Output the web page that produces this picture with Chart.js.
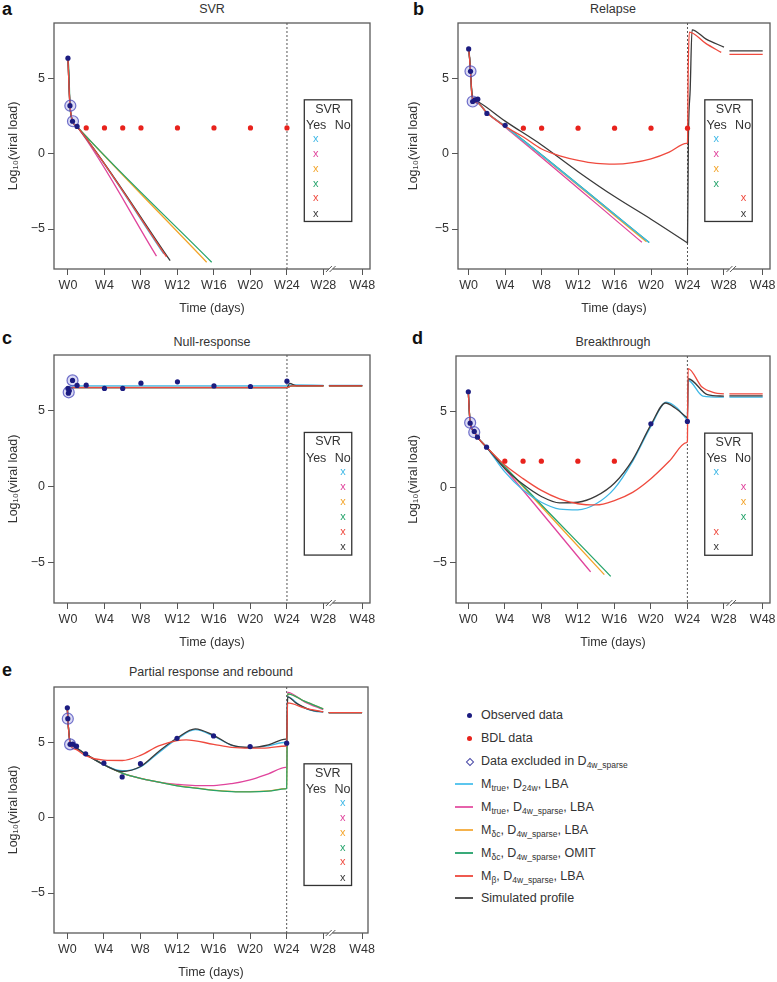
<!DOCTYPE html>
<html>
<head>
<meta charset="utf-8">
<script src="https://cdn.jsdelivr.net/npm/chart.js@4.4.1/dist/chart.umd.min.js"></script>
<style>
  html, body { margin: 0; padding: 0; background: #fff; overflow: hidden; }
  body { width: 777px; height: 982px; position: relative; font-family: 'Liberation Sans', Arial, Helvetica, sans-serif; color: #333; }
  canvas { position: absolute; }
  .letter { position: absolute; font-weight: bold; font-size: 18px; line-height: 18px; color: #111; }
  .ptitle { position: absolute; font-size: 12.5px; line-height: 15px; transform: translateX(-50%); white-space: nowrap; }
  .leg { position: absolute; left: 455px; height: 16px; line-height: 16px; font-size: 12.5px; white-space: nowrap; }
  .leg .txt { position: absolute; left: 26px; top: 0; }
  .leg sub { font-size: 8.5px; vertical-align: -3px; line-height: 0; }
  .leg .dot { position: absolute; left: 11.5px; top: 5.5px; width: 5px; height: 5px; border-radius: 50%; }
  .leg .dia { position: absolute; left: 12px; top: 5.5px; width: 4px; height: 4px; border: 1px solid #4a4aa8; transform: rotate(45deg); }
  .leg .ln { position: absolute; left: 0; top: 7px; width: 18px; height: 2px; }
</style>
</head>
<body>
<div class="letter" style="left:2px;top:0px">a</div>
<div class="letter" style="left:413px;top:0px">b</div>
<div class="letter" style="left:2px;top:329px">c</div>
<div class="letter" style="left:412px;top:329px">d</div>
<div class="letter" style="left:2px;top:661px">e</div>
<div class="ptitle" style="left:212px;top:2px">SVR</div>
<div class="ptitle" style="left:613px;top:2px">Relapse</div>
<div class="ptitle" style="left:212px;top:335px">Null-response</div>
<div class="ptitle" style="left:613px;top:335px">Breakthrough</div>
<div class="ptitle" style="left:211px;top:665px">Partial response and rebound</div>

<canvas id="pa" width="390" height="320" style="left:0;top:0"></canvas>
<canvas id="pb" width="377" height="320" style="left:400px;top:0"></canvas>
<canvas id="pc" width="390" height="334" style="left:0;top:320px"></canvas>
<canvas id="pd" width="377" height="334" style="left:400px;top:320px"></canvas>
<canvas id="pe" width="390" height="344" style="left:0;top:640px"></canvas>
<div id="legend"></div>

<script>
// axis ticks (x in weeks, W48 drawn after the axis break)
const tickWeeks = [0, 4, 8, 12, 16, 20, 24, 28, 32.25];
const tickLabels = ['W0', 'W4', 'W8', 'W12', 'W16', 'W20', 'W24', 'W28', 'W48'];
const yTicks = [-5, 0, 5];
const curveKeys = ['cyan', 'magenta', 'orange', 'green', 'red', 'black'];
const legendLabels = [
  'Observed data',
  'BDL data',
  'Data excluded in D<sub>4w_sparse</sub>',
  'M<sub>true</sub>, D<sub>24w</sub>, LBA',
  'M<sub>true</sub>, D<sub>4w_sparse</sub>, LBA',
  'M<sub>δc</sub>, D<sub>4w_sparse</sub>, LBA',
  'M<sub>δc</sub>, D<sub>4w_sparse</sub>, OMIT',
  'M<sub>β</sub>, D<sub>4w_sparse</sub>, LBA',
  'Simulated profile'
];

// ---- panel a: SVR
const aObsWeeks = [0, 0.22, 0.5, 1];
const aObsLog = [6.32, 3.17, 2.14, 1.8];
const aExclWeeks = [0.26, 0.55];
const aExclLog = [3.17, 2.14];
const aBdlWeeks = [2, 4, 6, 8, 12, 16, 20, 24];
const aBdlLog = [1.7, 1.7, 1.7, 1.7, 1.7, 1.7, 1.7, 1.7];
const aCyan = [[0, 6.32], [0.1, 4.7], [0.22, 3.2], [0.5, 2.15], [1, 1.78], [10.5, -6.65]];
const aMagenta = [[0, 6.32], [0.1, 4.7], [0.22, 3.2], [0.5, 2.15], [1, 1.78], [9.7, -6.8]];
const aOrange = [[0, 6.32], [0.1, 4.7], [0.22, 3.2], [0.5, 2.15], [1, 1.78], [15.2, -7.2]];
const aGreen = [[0, 6.32], [0.1, 5.5], [0.22, 3.2], [0.5, 2.15], [1, 1.78], [15.75, -7.2]];
const aRed = [[0, 6.32], [0.1, 4.7], [0.22, 3.2], [0.5, 2.15], [1, 1.78], [10.8, -6.85]];
const aBlack = [[0, 6.32], [0.1, 4.8], [0.22, 3.2], [0.5, 2.15], [1, 1.78], [11.2, -7.1]];
const aSvr = ['Yes', 'Yes', 'Yes', 'Yes', 'Yes', 'Yes'];

// ---- panel b: Relapse
const bObsWeeks = [0, 0.2, 0.44, 0.7, 1, 2, 4];
const bObsLog = [6.93, 5.45, 3.45, 3.55, 3.6, 2.66, 1.87];
const bExclWeeks = [0.2, 0.44];
const bExclLog = [5.45, 3.45];
const bBdlWeeks = [6, 8, 12, 16, 20, 24];
const bBdlLog = [1.68, 1.68, 1.68, 1.68, 1.68, 1.68];
const bCyan = [[0, 6.93], [0.1, 6.3], [0.2, 5.4], [0.35, 3.9], [0.5, 3.5], [1, 3.35], [2, 2.7], [4, 1.8], [19.8, -5.9]];
const bMagenta = [[0, 6.93], [0.1, 6.3], [0.2, 5.4], [0.35, 3.9], [0.5, 3.5], [1, 3.35], [2, 2.7], [4, 1.75], [19, -5.88]];
const bOrange = [[0, 6.93], [0.1, 6.3], [0.2, 5.4], [0.35, 3.9], [0.5, 3.5], [1, 3.35], [2, 2.7], [4, 1.8], [19.5, -5.85]];
const bGreen = [[0, 6.93], [0.1, 6.3], [0.2, 5.4], [0.35, 3.9], [0.5, 3.5], [1, 3.35], [2, 2.7], [4, 1.82], [19.8, -5.9]];
const bRed = [[0, 6.93], [0.1, 6.3], [0.2, 5.4], [0.35, 3.9], [0.5, 3.5], [1, 3.35], [2, 2.7], [4, 1.8], [6, 1.1], [8, 0.3], [10, -0.15], [12, -0.45], [14, -0.65], [16, -0.7], [18, -0.6], [20, -0.35], [22, 0.1], [23.9, 0.68], [24, 0.72], [24.08, 5.5], [24.2, 8.05], [26, 7.3], [27.7, 6.7], [28.2, null], [28.6, 6.57], [32.25, 6.57]];
const bBlack = [[0, 6.93], [0.1, 6.4], [0.2, 5.4], [0.4, 3.8], [0.6, 3.55], [1, 3.45], [4, 2.15], [8, 0.57], [12, -1.2], [16, -2.85], [20, -4.35], [23.9, -5.88], [24, -5.92], [24.1, 1.0], [24.3, 4.3], [24.5, 8.2], [26, 7.6], [28, 7.05], [28.3, null], [28.6, 6.8], [32.25, 6.8]];
const bSvr = ['Yes', 'Yes', 'Yes', 'Yes', 'No', 'No'];

// ---- panel c: Null-response
const cObsWeeks = [0, 0.05, 0.15, 0.5, 1, 2, 4, 6, 8, 12, 16, 20, 24];
const cObsLog = [6.45, 6.14, 6.3, 6.98, 6.65, 6.67, 6.45, 6.45, 6.8, 6.89, 6.62, 6.58, 6.93];
const cExclWeeks = [0.08, 0.5];
const cExclLog = [6.2, 6.98];
const cBdlWeeks = [];
const cBdlLog = [];
const cCyan = [[0, 6.45], [0.4, 6.62], [24, 6.62], [24.5, 6.68], [28, 6.66], [28.3, null], [28.6, 6.66], [32.25, 6.66]];
const cMagenta = [[0, 6.45], [0.5, 6.52], [24, 6.52], [24.5, 6.63], [28, 6.63], [28.3, null], [28.6, 6.63], [32.25, 6.63]];
const cOrange = [[0, 6.45], [0.5, 6.52], [24, 6.52], [24.5, 6.63], [28, 6.63], [28.3, null], [28.6, 6.63], [32.25, 6.63]];
const cGreen = [[0, 6.45], [0.5, 6.51], [24, 6.51], [24.5, 6.63], [28, 6.63], [28.3, null], [28.6, 6.63], [32.25, 6.63]];
const cRed = [[0, 6.45], [0.5, 6.5], [24, 6.5], [24.5, 6.62], [28, 6.62], [28.3, null], [28.6, 6.62], [32.25, 6.62]];
const cBlack = [[0, 6.45], [0.5, 6.5], [24, 6.5], [24.3, 6.78], [25, 6.64], [28, 6.64], [28.3, null], [28.6, 6.64], [32.25, 6.64]];
const cSvr = ['No', 'No', 'No', 'No', 'No', 'No'];

// ---- panel d: Breakthrough
const dObsWeeks = [0, 0.2, 0.65, 1, 2, 20, 24];
const dObsLog = [6.29, 4.22, 3.67, 3.29, 2.63, 4.18, 4.33];
const dExclWeeks = [0.2, 0.65];
const dExclLog = [4.25, 3.62];
const dBdlWeeks = [4, 6, 8, 12, 16];
const dBdlLog = [1.71, 1.71, 1.71, 1.71, 1.71];
const dCyan = [[0, 6.29], [0.08, 5.3], [0.2, 4.25], [0.6, 3.7], [1, 3.3], [2, 2.63], [4, 1.0], [6, -0.2], [8, -1.0], [10, -1.45], [12, -1.5], [14, -1.1], [16, -0.1], [18, 1.7], [20, 4.0], [21.7, 5.6], [22.9, 5.2], [23.9, 4.5], [24, 4.45], [24.08, 7.05], [25.7, 6.0], [28, 5.93], [28.3, null], [28.6, 5.93], [32.25, 5.93]];
const dMagenta = [[0, 6.29], [0.08, 5.3], [0.2, 4.25], [0.6, 3.7], [1, 3.3], [2, 2.63], [13.4, -5.6]];
const dOrange = [[0, 6.29], [0.08, 5.3], [0.2, 4.25], [0.6, 3.7], [1, 3.3], [2, 2.63], [14.9, -5.78]];
const dGreen = [[0, 6.29], [0.08, 5.3], [0.2, 4.25], [0.6, 3.7], [1, 3.3], [2, 2.63], [15.6, -5.89]];
const dRed = [[0, 6.29], [0.08, 5.3], [0.2, 4.25], [0.6, 3.7], [1, 3.3], [2, 2.63], [4, 1.45], [6, 0.56], [8, -0.22], [10, -0.78], [12, -1.1], [14, -1.18], [16, -0.89], [18, -0.35], [20, 0.55], [22, 1.7], [23.9, 2.93], [24, 3.0], [24.08, 7.82], [25.6, 6.6], [27, 6.22], [28, 6.15], [28.3, null], [28.6, 6.15], [32.25, 6.15]];
const dBlack = [[0, 6.29], [0.08, 5.3], [0.2, 4.25], [0.6, 3.7], [1, 3.3], [2, 2.63], [4, 1.22], [6, 0.18], [8, -0.62], [10, -1.04], [12, -1.0], [14, -0.6], [16, 0.25], [18, 1.8], [20, 4.1], [21.6, 5.55], [22.7, 5.2], [23.9, 4.6], [24, 4.55], [24.08, 7.15], [26.2, 6.1], [28, 6.0], [28.3, null], [28.6, 6.02], [32.25, 6.02]];
const dSvr = ['Yes', 'No', 'No', 'No', 'Yes', 'Yes'];

// ---- panel e: Partial response and rebound
const eObsWeeks = [0, 0.05, 0.3, 0.6, 1, 2, 4, 6, 8, 12, 16, 20, 24];
const eObsLog = [7.27, 6.55, 4.85, 4.87, 4.73, 4.22, 3.6, 2.69, 3.57, 5.25, 5.41, 4.7, 4.93];
const eExclWeeks = [0.05, 0.3];
const eExclLog = [6.55, 4.85];
const eBdlWeeks = [];
const eBdlLog = [];
const eCyan = [[0, 7.27], [0.05, 6.6], [0.3, 5.0], [0.6, 4.75], [1, 4.6], [2, 4.2], [4, 3.5], [6, 3.1], [8, 3.35], [10, 4.3], [12, 5.2], [14, 5.82], [16, 5.4], [18, 4.78], [20, 4.62], [22, 4.75], [23.9, 4.99], [24, 5.0], [24.1, 8.0], [25.5, 7.4], [27, 7.05], [28, 7.0], [28.3, null], [28.6, 6.95], [32.25, 6.95]];
const eMagenta = [[0, 7.27], [0.05, 6.6], [0.3, 5.0], [0.6, 4.75], [1, 4.6], [2, 4.2], [4, 3.5], [6, 2.95], [8, 2.6], [10, 2.35], [12, 2.2], [14, 2.12], [16, 2.12], [18, 2.25], [20, 2.5], [22, 2.9], [23.9, 3.32], [24, 3.35], [24.1, 8.3], [26, 7.65], [28, 7.15], [28.3, null], [28.6, 6.95], [32.25, 6.95]];
const eOrange = [[0, 7.27], [0.05, 6.6], [0.3, 5.0], [0.6, 4.75], [1, 4.6], [2, 4.2], [4, 3.5], [6, 2.95], [8, 2.6], [10, 2.35], [12, 2.12], [14, 1.97], [16, 1.82], [18, 1.74], [20, 1.72], [22, 1.77], [23.9, 1.92], [24, 1.94], [24.1, 8.2], [26, 7.7], [28, 7.2], [28.3, null], [28.6, 6.95], [32.25, 6.95]];
const eGreen = [[0, 7.27], [0.05, 6.6], [0.3, 5.0], [0.6, 4.75], [1, 4.6], [2, 4.2], [4, 3.5], [6, 2.95], [8, 2.6], [10, 2.35], [12, 2.1], [14, 1.95], [16, 1.8], [18, 1.72], [20, 1.7], [22, 1.75], [23.9, 1.9], [24, 1.92], [24.1, 8.2], [26, 7.7], [28, 7.2], [28.3, null], [28.6, 6.95], [32.25, 6.95]];
const eRed = [[0, 7.27], [0.05, 6.6], [0.3, 4.9], [0.6, 4.6], [1, 4.5], [2, 4.1], [4, 3.8], [6, 3.78], [8, 4.12], [10, 4.75], [12, 5.1], [13, 5.15], [16, 4.85], [18, 4.65], [20, 4.6], [22, 4.62], [23.9, 4.74], [24, 4.75], [24.1, 7.6], [26, 7.25], [28, 7.0], [28.3, null], [28.6, 6.95], [32.25, 6.95]];
const eBlack = [[0, 7.27], [0.05, 6.6], [0.3, 5.0], [0.6, 4.75], [1, 4.6], [2, 4.2], [4, 3.5], [6, 3.05], [8, 3.38], [10, 4.38], [12, 5.27], [14, 5.88], [16, 5.45], [18, 4.8], [20, 4.65], [22, 4.82], [23.9, 5.2], [24, 5.22], [24.1, 8.0], [25, 7.6], [26.5, 7.15], [28, 7.0], [28.3, null], [28.6, 6.95], [32.25, 6.95]];
const eSvr = ['No', 'No', 'No', 'No', 'No', 'No'];

// ---- styles
const colors = {
  cyan: '#3fb8e6', magenta: '#e0449c', orange: '#f3a52c', green: '#26a46c', red: '#ef4a3e', black: '#3a3a3a',
  obs: '#1c1c80', bdl: '#e8221c', excl: 'rgba(70,70,185,0.75)'
};
const legendColors = ['#1c1c80', '#e8221c', null, '#5cc6ee', '#e662ab', '#f5b24c', '#39aa79', '#ef5a50', '#555'];
const FONT = "'Liberation Sans', Arial, Helvetica, sans-serif";
Chart.defaults.font.family = FONT;
Chart.defaults.font.size = 12.5;
Chart.defaults.color = '#333';

const svrDecor = {
  id: 'svrDecor',
  beforeDatasetsDraw(chart) {
    const {ctx, chartArea: ca, scales: {x}} = chart;
    const px = x.getPixelForValue(24);
    ctx.save();
    ctx.strokeStyle = '#555';
    ctx.lineWidth = 1;
    ctx.setLineDash([2, 2]);
    ctx.beginPath();
    ctx.moveTo(px, ca.top);
    ctx.lineTo(px, ca.bottom);
    ctx.stroke();
    ctx.restore();
  },
  afterDatasetsDraw(chart, args, opts) {
    const {ctx, scales: {x, y}} = chart;
    const L = x.getPixelForValue(25.9), R = x.getPixelForValue(31.1);
    const T = y.getPixelForValue(3.56), B = y.getPixelForValue(-4.5);
    ctx.save();
    ctx.fillStyle = '#fff';
    ctx.fillRect(L, T, R - L, B - T);
    ctx.strokeStyle = '#333';
    ctx.lineWidth = 1.3;
    ctx.strokeRect(L, T, R - L, B - T);
    ctx.font = '12.5px ' + FONT;
    ctx.fillStyle = '#333';
    ctx.textAlign = 'center';
    ctx.textBaseline = 'middle';
    ctx.fillText('SVR', (L + R) / 2, y.getPixelForValue(2.93));
    ctx.fillText('Yes', x.getPixelForValue(27.2), y.getPixelForValue(1.87));
    ctx.fillText('No', x.getPixelForValue(30.1), y.getPixelForValue(1.87));
    const rowY = [0.92, -0.07, -1.06, -2.05, -3.04, -4.05];
    ctx.font = '11px ' + FONT;
    opts.svr.forEach((v, i) => {
      ctx.fillStyle = colors[curveKeys[i]];
      const cx = x.getPixelForValue(v === 'Yes' ? 27.15 : 30.15);
      ctx.fillText('x', cx, y.getPixelForValue(rowY[i]) - 1);
    });
    ctx.restore();
  },
  afterDraw(chart) {
    const {ctx, chartArea: ca, scales: {x}} = chart;
    ctx.save();
    ctx.strokeStyle = '#5a5a5a';
    ctx.lineWidth = 1.3;
    ctx.strokeRect(ca.left, ca.top, ca.right - ca.left, ca.bottom - ca.top);
    // axis break marks
    const b1 = x.getPixelForValue(28.6), b2 = x.getPixelForValue(29.0);
    ctx.fillStyle = '#fff';
    ctx.fillRect(b1, ca.bottom - 2, b2 - b1, 4);
    ctx.lineWidth = 1;
    ctx.beginPath();
    [b1, b2].forEach(b => { ctx.moveTo(b - 3, ca.bottom + 3); ctx.lineTo(b + 3, ca.bottom - 3); });
    ctx.stroke();
    ctx.restore();
  }
};

const toPts = (w, v) => w.map((wk, i) => ({x: wk, y: v[i]}));
const toCurve = arr => arr.map(p => ({x: p[0], y: p[1]}));

function makePanel(id, geo, s) {
  const datasets = [
    {data: toPts(s.obsW, s.obsV), pointRadius: 2.6, pointBackgroundColor: colors.obs, pointBorderWidth: 0},
    {data: toPts(s.exclW, s.exclV), pointRadius: 5.5, pointBackgroundColor: 'rgba(110,110,215,0.25)', pointBorderColor: colors.excl, pointBorderWidth: 1.2},
    {data: toPts(s.bdlW, s.bdlV), pointRadius: 2.6, pointBackgroundColor: colors.bdl, pointBorderWidth: 0}
  ];
  ['red', 'black', 'cyan', 'green', 'orange', 'magenta'].forEach(k => {
    datasets.push({
      data: toCurve(s.curves[k]), showLine: true, pointRadius: 0, borderColor: colors[k],
      borderWidth: 1.3, cubicInterpolationMode: 'monotone', spanGaps: false
    });
  });
  return new Chart(document.getElementById(id), {
    type: 'scatter',
    data: {datasets},
    options: {
      responsive: false,
      animation: false,
      events: [],
      layout: {padding: {left: 0, top: geo.top, right: geo.right, bottom: 0}},
      plugins: {legend: {display: false}, tooltip: {enabled: false}, svrDecor: {svr: s.svr}},
      scales: {
        x: {
          type: 'linear', min: geo.xmin, max: geo.xmax,
          afterBuildTicks: sc => { sc.ticks = tickWeeks.map(v => ({value: v})); },
          afterFit: sc => { sc.height = 51; sc.paddingLeft = 0; sc.paddingRight = 0; },
          ticks: {callback: v => tickLabels[tickWeeks.indexOf(v)], padding: 3, maxRotation: 0, autoSkip: false},
          grid: {drawOnChartArea: false, drawTicks: true, tickLength: 6, color: '#555'},
          border: {display: false},
          title: {display: true, text: 'Time (days)', padding: {top: 0, bottom: 4}}
        },
        y: {
          type: 'linear', min: -7.65, max: 8.65,
          afterBuildTicks: sc => { sc.ticks = yTicks.map(v => ({value: v})); },
          afterFit: sc => { sc.width = geo.yw; sc.paddingTop = 0; sc.paddingBottom = 0; },
          ticks: {callback: v => (v < 0 ? '\u2212' + (-v) : String(v)), padding: 3},
          grid: {drawOnChartArea: false, drawTicks: true, tickLength: 6, color: '#555'},
          border: {display: false},
          title: {display: true, text: 'Log\u2081\u2080(viral load)', padding: {top: 6, bottom: 0}}
        }
      }
    },
    plugins: [svrDecor]
  });
}

makePanel('pa', {top: 23, right: 20, yw: 54, xmin: -1.53, xmax: 33.1}, {
  obsW: aObsWeeks, obsV: aObsLog, exclW: aExclWeeks, exclV: aExclLog, bdlW: aBdlWeeks, bdlV: aBdlLog,
  curves: {cyan: aCyan, magenta: aMagenta, orange: aOrange, green: aGreen, red: aRed, black: aBlack}, svr: aSvr
});
makePanel('pb', {top: 23, right: 7, yw: 58, xmin: -1.17, xmax: 33.05}, {
  obsW: bObsWeeks, obsV: bObsLog, exclW: bExclWeeks, exclV: bExclLog, bdlW: bBdlWeeks, bdlV: bBdlLog,
  curves: {cyan: bCyan, magenta: bMagenta, orange: bOrange, green: bGreen, red: bRed, black: bBlack}, svr: bSvr
});
makePanel('pc', {top: 35, right: 20, yw: 54, xmin: -1.53, xmax: 33.1}, {
  obsW: cObsWeeks, obsV: cObsLog, exclW: cExclWeeks, exclV: cExclLog, bdlW: cBdlWeeks, bdlV: cBdlLog,
  curves: {cyan: cCyan, magenta: cMagenta, orange: cOrange, green: cGreen, red: cRed, black: cBlack}, svr: cSvr
});
makePanel('pd', {top: 36, right: 7, yw: 56, xmin: -1.35, xmax: 33.05}, {
  obsW: dObsWeeks, obsV: dObsLog, exclW: dExclWeeks, exclV: dExclLog, bdlW: dBdlWeeks, bdlV: dBdlLog,
  curves: {cyan: dCyan, magenta: dMagenta, orange: dOrange, green: dGreen, red: dRed, black: dBlack}, svr: dSvr
});
makePanel('pe', {top: 47, right: 22, yw: 54, xmin: -1.46, xmax: 32.9}, {
  obsW: eObsWeeks, obsV: eObsLog, exclW: eExclWeeks, exclV: eExclLog, bdlW: eBdlWeeks, bdlV: eBdlLog,
  curves: {cyan: eCyan, magenta: eMagenta, orange: eOrange, green: eGreen, red: eRed, black: eBlack}, svr: eSvr
});

// legend for all panels
const legendTops = [707, 730, 753, 776, 799, 822, 845, 868, 890];
const legend = document.getElementById('legend');
legendLabels.forEach((lab, i) => {
  const row = document.createElement('div');
  row.className = 'leg';
  row.style.top = legendTops[i] + 'px';
  let mark;
  if (i < 2) mark = '<span class="dot" style="background:' + legendColors[i] + '"></span>';
  else if (i === 2) mark = '<span class="dia"></span>';
  else mark = '<span class="ln" style="background:' + legendColors[i] + '"></span>';
  row.innerHTML = mark + '<span class="txt">' + lab + '</span>';
  legend.appendChild(row);
});
</script>
</body>
</html>
